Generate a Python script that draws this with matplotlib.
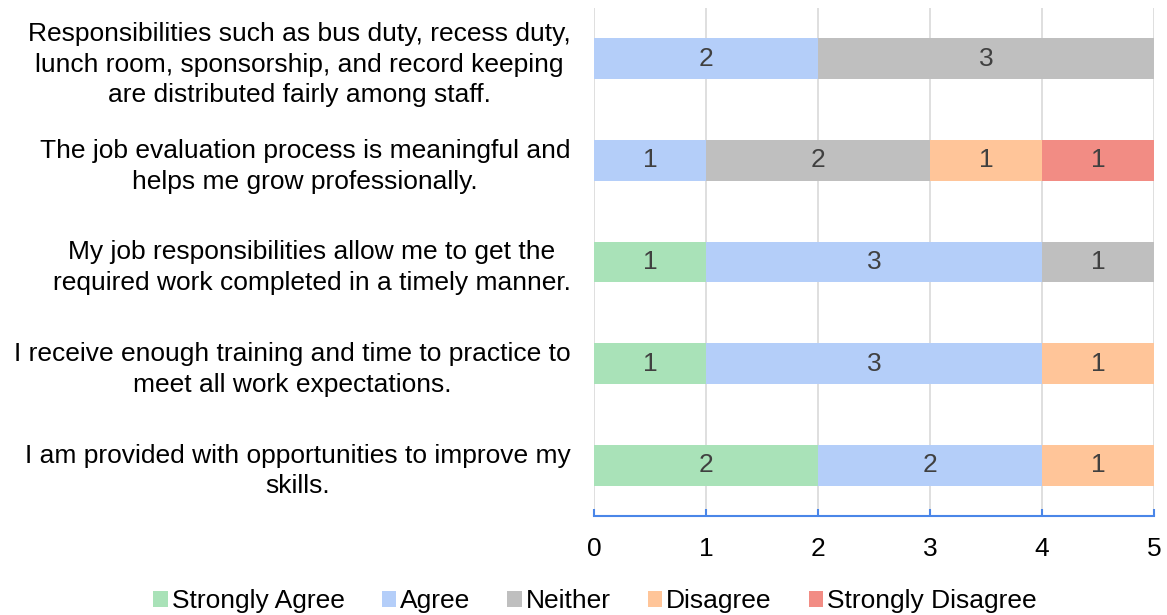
import numpy as np
import matplotlib.pyplot as plt

plt.rcParams['font.family'] = ['Liberation Sans', 'DejaVu Sans']

questions = [
    "I am provided with opportunities to improve my\nskills.",
    "I receive enough training and time to practice to\nmeet all work expectations.",
    "My job responsibilities allow me to get the\nrequired work completed in a timely manner.",
    "The job evaluation process is meaningful and\nhelps me grow professionally.",
    "Responsibilities such as bus duty, recess duty,\nlunch room, sponsorship, and record keeping\nare distributed fairly among staff.",
]
categories = ["Strongly Agree", "Agree", "Neither", "Disagree", "Strongly Disagree"]
strongly_agree = [2, 1, 1, 0, 0]
agree = [2, 3, 3, 1, 2]
neither = [0, 0, 1, 2, 3]
disagree = [1, 1, 0, 1, 0]
strongly_disagree = [0, 0, 0, 1, 0]
colors = ["#A9E2B8", "#B4CEF9", "#BFBFBF", "#FFC599", "#F28C84"]

series = [strongly_agree, agree, neither, disagree, strongly_disagree]
fs = 19

fig = plt.figure(figsize=(11.67, 6.15), dpi=100)
ax = fig.add_axes([0.509, 0.161, 0.48, 0.826])

y = np.arange(len(questions))
left = np.zeros(len(questions))
for vals, name, c in zip(series, categories, colors):
    vals = np.array(vals, dtype=float)
    bars = ax.barh(y, vals, left=left, height=0.4, color=c, label=name, zorder=2)
    for b, v in zip(bars, vals):
        if v > 0:
            ax.text(b.get_x() + b.get_width() / 2, b.get_y() + b.get_height() / 2,
                    f"{int(v)}", ha='center', va='center', fontsize=fs,
                    color='#404040', zorder=3)
    left += vals

ax.set_xlim(0, 5)
ax.set_ylim(-0.5, 4.5)
ax.set_xticks(range(6))
ax.set_yticks(y)
ax.set_yticklabels(questions, fontsize=fs, multialignment='center', linespacing=1.35)
ax.tick_params(axis='y', length=0, pad=17)
ax.tick_params(axis='x', direction='in', length=5, width=1.5, color='#4A86E8',
               labelsize=fs, pad=15)
ax.grid(axis='x', color='#D9D9D9', linewidth=1.2, zorder=0)
for s in ['top', 'right', 'left']:
    ax.spines[s].set_visible(False)
ax.spines['bottom'].set_color('#4A86E8')
ax.spines['bottom'].set_linewidth(1.5)

fig.legend(loc='center', bbox_to_anchor=(0.51, 0.022), ncol=5, frameon=False,
           fontsize=fs, handlelength=0.55, handleheight=0.55, handletextpad=0.15,
           columnspacing=1.4)

fig.savefig("out.png", dpi=100)
